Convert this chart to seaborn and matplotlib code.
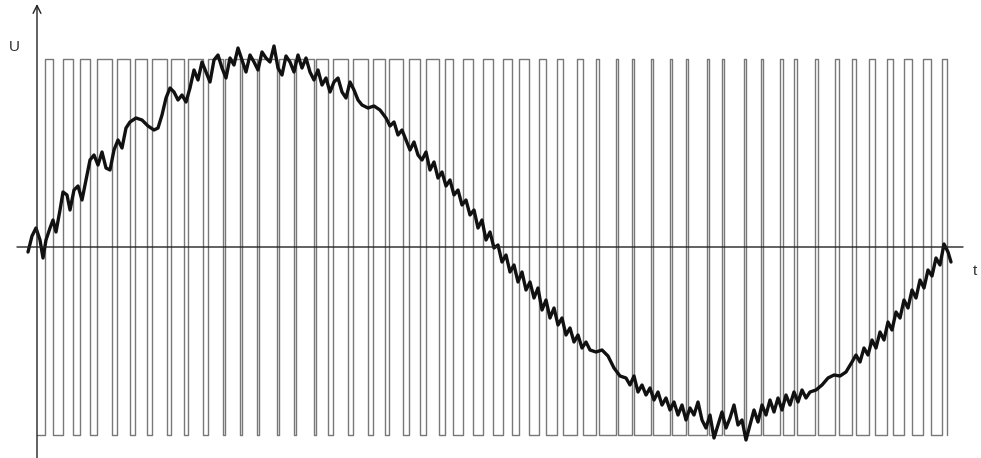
import numpy as np
import pandas as pd
import matplotlib
matplotlib.use("Agg")
import matplotlib.pyplot as plt
import seaborn as sns

# ---------------- data (arbitrary units: t from origin, U in same scale) ----------------
U_RAIL = 188  # amplitude of PWM rails

# low pulses during positive half wave (start, end)
low_pulse_start = [0, 16, 36, 53, 75, 93, 110, 130, 147, 166, 186, 203, 220, 240, 257, 277,
                   291, 311, 331, 348, 366, 383, 402, 416, 436]
low_pulse_end = [8, 26, 43, 60, 80, 98, 115, 134, 151, 171, 188, 205, 222, 242, 259, 279,
                 296, 316, 336, 352, 372, 389, 408, 426, 446]

# high pulses during negative half wave (start, end)
high_pulse_start = [446, 466, 482, 502, 520, 540, 559, 579, 595, 614, 633, 649, 670, 685, 707,
                    724, 743, 757, 778, 798, 815, 832, 850, 867, 886, 905]
high_pulse_end = [456, 475, 492, 509, 526, 546, 562, 581, 597, 616, 635, 651, 672, 687, 709,
                  726, 746, 760, 781, 802, 819, 838, 856, 875, 894, 910]

# filtered output voltage (with ripple)
curve_t = [-9, -5, -1, 3, 6, 9, 13, 16, 19, 23, 26, 30, 33, 37, 41, 45, 49, 53, 57, 61, 65, 69,
           73, 77, 81, 85, 89, 93, 99, 105, 111, 117, 121, 125, 129, 133, 137, 141, 145, 149,
           153, 157, 161, 165, 169, 173, 177, 181, 185, 189, 193, 197, 201, 205, 209, 213, 217,
           221, 225, 229, 233, 237, 241, 245, 249, 253, 257, 261, 265, 269, 273, 277, 281, 285,
           289, 293, 297, 301, 305, 309, 313, 317, 321, 325, 331, 337, 343, 349, 353, 357, 361,
           365, 369, 373, 377, 381, 385, 389, 393, 397, 401, 405, 409, 413, 417, 421, 425, 429,
           433, 437, 441, 445, 449, 453, 457, 461, 465, 469, 473, 477, 481, 485, 489, 493, 497,
           501, 505, 509, 513, 517, 521, 525, 529, 533, 537, 541, 545, 549, 553, 559, 565, 571,
           577, 583, 589, 593, 597, 601, 605, 609, 613, 617, 621, 625, 629, 633, 637, 641, 645,
           649, 653, 657, 661, 665, 669, 673, 677, 681, 685, 689, 693, 697, 701, 705, 709, 713,
           717, 721, 725, 729, 733, 737, 741, 745, 749, 753, 757, 761, 765, 769, 773, 779, 785,
           791, 797, 803, 809, 815, 819, 823, 827, 831, 835, 839, 843, 847, 851, 855, 859, 863,
           867, 871, 875, 879, 883, 887, 891, 895, 899, 903, 907, 911, 914]
curve_u = [-5, 11, 19, 7, -11, 7, 19, 27, 15, 37, 55, 52, 37, 57, 61, 47, 67, 87, 92, 82, 95, 79,
           77, 97, 107, 99, 119, 125, 129, 127, 121, 117, 119, 132, 149, 159, 155, 147, 152, 145,
           159, 177, 167, 185, 175, 165, 187, 192, 179, 169, 189, 182, 199, 187, 175, 192, 185,
           177, 195, 189, 185, 201, 179, 172, 191, 185, 175, 192, 179, 189, 175, 167, 177, 162,
           169, 155, 165, 169, 155, 149, 165, 157, 147, 142, 139, 141, 137, 129, 121, 125, 112,
           117, 107, 97, 105, 92, 87, 95, 77, 85, 69, 75, 61, 67, 52, 57, 42, 47,
           32, 37, 19, 27, 7, 15, -1, 2, -15, -8, -25, -18, -35, -25, -43, -35, -51,
           -41, -63, -53, -71, -61, -78, -71, -88, -81, -95, -88, -101, -95, -103, -105, -103, -109,
           -121, -129, -131, -138, -129, -145, -138, -148, -141, -153, -145, -158, -151, -163, -155, -168, -158,
           -173, -161, -168, -155, -173, -181, -168, -191, -178, -165, -181, -171, -158, -178, -173, -193, -178,
           -163, -175, -158, -168, -153, -165, -151, -163, -148, -158, -145, -155, -143, -151, -145, -143, -138,
           -131, -128, -129, -125, -115, -108, -115, -101, -108, -93, -101, -85, -93, -75, -83, -65, -71,
           -53, -61, -43, -51, -33, -41, -23, -29, -11, -18, 3, -5, -15]

U_LABEL = "U"
T_LABEL = "t"

# ---------------- build PWM step signal from pulse tables ----------------
events = []
for a, b in zip(low_pulse_start, low_pulse_end):
    events += [(a, -1), (b, 1)]
for a, b in zip(high_pulse_start, high_pulse_end):
    events += [(a, 1), (b, -1)]
events.sort(key=lambda e: e[0])
pwm_t, pwm_u = [], []
for tt, lev in events:
    if pwm_t and pwm_t[-1] == tt:
        pwm_u[-1] = lev * U_RAIL
    else:
        pwm_t.append(tt)
        pwm_u.append(lev * U_RAIL)
pwm = pd.DataFrame({"t": pwm_t, "u": pwm_u})
curve = pd.DataFrame({"t": curve_t, "u": curve_u})

# ---------------- figure ----------------
sns.set_theme(style="white")
plt.rcParams["font.family"] = ["Liberation Sans", "DejaVu Sans"]

fig = plt.figure(figsize=(9.81, 4.58), dpi=100)
ax = fig.add_axes([0, 0, 1, 1])
ax.set_xlim(-37, 944)
ax.set_ylim(-211, 247)
ax.axis("off")

# PWM
sns.lineplot(data=pwm, x="t", y="u", ax=ax, drawstyle="steps-post", color="#787878",
             linewidth=1.0, estimator=None, sort=False, legend=False)
# axes
ax.annotate("", xy=(0, 243), xytext=(0, -211),
            arrowprops=dict(arrowstyle="->", lw=1.0, color="#222222", mutation_scale=14,
                            shrinkA=0, shrinkB=0))
ax.annotate("", xy=(926, 0), xytext=(-20, 0),
            arrowprops=dict(arrowstyle="-", lw=1.0, color="#222222",
                            shrinkA=0, shrinkB=0))
# filtered voltage
sns.lineplot(data=curve, x="t", y="u", ax=ax, color="#111111", linewidth=2.4,
             estimator=None, sort=False, legend=False)
ax.lines[-1].set_solid_joinstyle("round")
ax.lines[-1].set_solid_capstyle("round")

ax.text(-23, 200, U_LABEL, fontsize=11, color="#333333", ha="center", va="center")
ax.text(938, -24, T_LABEL, fontsize=11, color="#333333", ha="center", va="center")

fig.savefig("out.png", dpi=100, facecolor="white")
